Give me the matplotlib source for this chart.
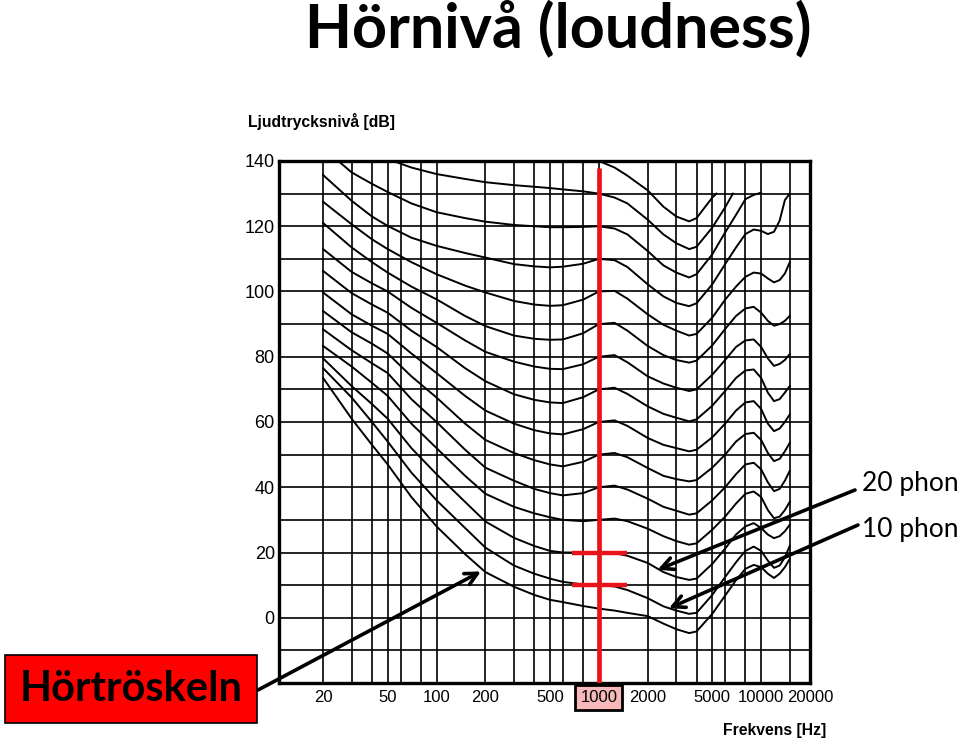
import numpy as np
import matplotlib
matplotlib.use("Agg")
import matplotlib.pyplot as plt
from matplotlib.patches import Rectangle

nan = np.nan

# frekvenser där kurvorna är avlästa (Hz)
freq_hz = [20, 30, 40, 50, 70, 100, 150, 200, 300, 400, 500, 600, 800, 1000, 1250, 1500,
           2000, 2500, 3000, 3600, 4000, 5000, 6000, 7000, 8000, 9000, 10000, 11000,
           12000, 13000, 14000, 15000]

# hörnivåkurvor (dB)
threshold = [73.5, 61, 53, 47, 37, 28, 19.5, 14, 9.5, 7, 5.5, 4.8, 3.6, 2.8, 2.2, 1.5,
             0.5, -1.8, -3.5, -4.7, -4.2, 1.2, 6.8, 11.5, 15, 16.2, 15.5, 13.5, 12.2, 13.5, 15.5, 18]
phon_10 = [76.5, 67.5, 60, 54, 44.5, 36, 27.5, 21.5, 16, 13.5, 12, 11, 10.2, 10, 9.6, 8.5,
           6, 3.5, 2.2, 1.2, 1.5, 7, 12.5, 17, 20.5, 21.8, 20.5, 17.5, 15.3, 16, 18.5, 22]
phon_20 = [79.5, 71, 65.5, 61, 52, 44, 35.5, 29.5, 24.5, 22, 20.5, 20, 20, 20, 19.8, 19,
           16.8, 14, 12.5, 11.6, 12, 16.5, 21.2, 25.5, 28, 29, 27.5, 25.5, 24.4, 25, 26.5, 28.5]
phon_30 = [83.3, 77, 72, 68, 59.5, 52, 43.5, 38, 34, 32, 30.8, 30, 29.6, 30, 30.4, 29.6,
           27.3, 25, 23.5, 22.4, 22.8, 27, 31, 35, 38, 38.7, 37, 33, 30.5, 31, 33, 35.5]
phon_40 = [88.4, 82, 78, 75, 67, 60, 51.5, 46, 42, 39.5, 38.2, 37.5, 38.2, 40, 40.5, 39.3,
           36.5, 34, 32.8, 31.6, 32, 36, 40, 44, 47, 47.5, 45.5, 41.5, 38.8, 39.5, 42, 45]
phon_50 = [94, 87.5, 84, 81, 74, 67.5, 59.5, 54.5, 50.5, 48.3, 47, 46.4, 47.8, 50, 50.5, 49.2,
           45.9, 43.5, 42.5, 41.8, 42.2, 46, 50, 54, 56.3, 56.7, 54.5, 50.5, 48, 48.7, 51, 53.6]
phon_60 = [99.7, 93, 89.5, 87, 81, 75, 68, 63.5, 59.5, 57.5, 56.5, 56.2, 57.8, 60, 60.5, 58.8,
           55.1, 53, 52, 51, 51.5, 55.3, 59.5, 63.5, 66, 66.4, 64, 59.5, 57.2, 58, 60, 62.3]
phon_70 = [106.3, 99.5, 96, 93.5, 88, 83, 76.5, 72.5, 68.5, 66.8, 66, 65.8, 67.6, 70, 70.5, 68.6,
           64.8, 62.5, 61.3, 60.2, 60.8, 65, 69.5, 73.5, 75.8, 76.1, 73.5, 69, 66.4, 67, 69, 71]
phon_80 = [113, 106, 102.5, 100, 95, 90.4, 85, 81.5, 78.5, 77, 76.3, 76.2, 77.7, 80, 80.5, 78.3,
           74, 71.8, 70.5, 69.5, 70, 74.5, 79, 83, 85, 85.3, 83, 79.5, 77.2, 77.8, 79, 80.8]
phon_90 = [121, 113.5, 109, 105.8, 101.5, 97.6, 92.5, 89.4, 86.5, 85.5, 85.2, 85.3, 87.2, 90, 90.4, 88,
           83.3, 80.5, 79, 78.2, 78.8, 83.5, 88.5, 92.5, 94.8, 95.3, 93.5, 91, 89.5, 90, 91, 92.5]
phon_100 = [127.5, 120.6, 116, 113, 109, 105.3, 101.8, 99.7, 97.1, 96, 95.6, 95.8, 97.5, 100, 100.2, 97.8,
            93, 89.8, 88, 86.5, 87, 92, 97.5, 101.5, 104.5, 105.8, 105.5, 104, 102.8, 103.5, 105.5, 108.9]
phon_110 = [135.7, 127.8, 123, 120.1, 116.5, 114, 111.8, 110.4, 108.4, 107.7, 107.4, 107.6, 108.5, 110, 109.6, 107.5,
            102.2, 98.5, 96.5, 95.5, 96.4, 102.2, 108.4, 113.5, 117.6, 119, 118.6, 117.6, 118.3, 121.7, 128, 130]
phon_120 = [144, 136.5, 133, 130.5, 127, 124.3, 122.5, 121.4, 120.4, 120, 119.7, 119.7, 119.8, 120, 119.3, 117.5,
            112.4, 108, 105.8, 104.3, 105.3, 111.4, 118.1, 123.5, 128.3, 129.6, 130.3, nan, nan, nan, nan, nan]
phon_130 = [160, 151, 144.5, 140.6, 138, 136, 134.5, 133.5, 132.6, 132.1, 131.7, 131.3, 130.7, 130, 128.8, 127,
            122, 117.5, 114.8, 113, 113.7, 119.6, 125.8, nan, nan, nan, nan, nan, nan, nan, nan, nan]
phon_140 = [nan, nan, nan, nan, nan, nan, nan, nan, nan, nan, nan, nan, 142, 140, 138, 135.5,
            131, 126, 123, 121.5, 122.5, 128.8, nan, nan, nan, nan, nan, nan, nan, nan, nan, nan]

# de översta kurvorna slutar på 130 dB-linjen
end_hz_130 = 6700
end_hz_140 = 5300
end_db = 130

curves = [threshold, phon_10, phon_20, phon_30, phon_40, phon_50, phon_60, phon_70,
          phon_80, phon_90, phon_100, phon_110, phon_120, phon_130, phon_140]

x_labels_hz = [20, 50, 100, 200, 500, 1000, 2000, 5000, 10000, 20000]
x_labels = ["20", "50", "100", "200", "500", "1000", "2000", "5000", "10000", "20000"]
x_minor_hz = [30, 40, 60, 80, 300, 400, 600, 800, 3000, 4000, 6000, 8000, 15000]
y_labels_db = [0, 20, 40, 60, 80, 100, 120, 140]
y_minor_db = [-20, -10, 10, 30, 50, 70, 90, 110, 130]

ref_hz = 1000        # röd referenslinje
ref_top_db = 138
marker_db = [20, 10]
marker_from_hz, marker_to_hz = 680, 1500

tip_threshold = (188, 14.2)
tip_20 = (2300, 14.7)
tip_10 = (2700, 2.9)

RED = "#e8141c"
AXFONT = "Liberation Sans"

fig = plt.figure(figsize=(9.6, 7.44), dpi=100)
ax = fig.add_axes([279 / 960, 1 - 683 / 744, (810 - 279) / 960, (683 - 161) / 744])
ax.set_xscale("log")
ax.set_xlim(10.7, 20000)
ax.set_ylim(-20, 140)

# rutnät
ax.set_xticks(x_labels_hz, labels=x_labels)
ax.set_xticks(x_minor_hz, minor=True)
ax.set_yticks(y_labels_db, labels=[str(v) for v in y_labels_db])
ax.set_yticks(y_minor_db, minor=True)
ax.grid(which="both", color="black", lw=1.2)
ax.tick_params(which="both", length=0)
ax.tick_params(axis="x", pad=5)
ax.tick_params(axis="y", pad=3)
for lbl in ax.get_xticklabels():
    lbl.set_family(AXFONT)
    lbl.set_fontsize(12)
for lbl in ax.get_yticklabels():
    lbl.set_family(AXFONT)
    lbl.set_fontsize(13)
for sp in ax.spines.values():
    sp.set_linewidth(2.4)

# kurvorna
for vals in curves:
    x = list(freq_hz)
    y = list(vals)
    if vals is phon_130:
        x.insert(23, end_hz_130)
        y.insert(23, end_db)
    if vals is phon_140:
        x.insert(22, end_hz_140)
        y.insert(22, end_db)
    ax.plot(x, y, color="black", lw=1.4)

# röd markering vid 1000 Hz
ax.vlines(ref_hz, -20, ref_top_db, color=RED, lw=3.4, zorder=5)
ax.hlines(marker_db, marker_from_hz, marker_to_hz, color=RED, lw=3.2, zorder=5)

lbl1000 = ax.get_xticklabels()[x_labels_hz.index(1000)]
lbl1000.set_bbox(dict(boxstyle="square,pad=0.3", facecolor="#f6b8b8", edgecolor="black", lw=2))

# text och pilar
fig.text(558 / 960, 716 / 744, "Hörnivå (loudness)", fontsize=44, fontweight="bold",
         family="Lato", ha="center", va="center")
fig.text(248 / 960, 622 / 744, "Ljudtrycksnivå [dB]", fontsize=11.3, fontweight="bold",
         family=AXFONT, ha="left", va="center")
fig.text(826 / 960, 13 / 744, "Frekvens [Hz]", fontsize=11.3, fontweight="bold",
         family=AXFONT, ha="right", va="center")

arrow = dict(arrowstyle="->", lw=2.6, color="black", mutation_scale=22, shrinkA=0, shrinkB=0)
fig.text(862 / 960, 260 / 744, "20 phon", fontsize=19, family="Lato", ha="left", va="center")
fig.text(862 / 960, 214 / 744, "10 phon", fontsize=19, family="Lato", ha="left", va="center")
ax.annotate("", xy=tip_20, xytext=(855, 254), textcoords="figure pixels", arrowprops=arrow)
ax.annotate("", xy=tip_10, xytext=(858, 219), textcoords="figure pixels", arrowprops=arrow)

box = Rectangle((5 / 960, 21 / 744), 252 / 960, 68 / 744, transform=fig.transFigure,
                facecolor="#ff0000", edgecolor="black", lw=1.2)
fig.add_artist(box)
fig.text(131 / 960, 55 / 744, "Hörtröskeln", fontsize=30, fontweight="bold",
         family="Lato", ha="center", va="center")
ax.annotate("", xy=tip_threshold, xytext=(258, 54), textcoords="figure pixels", arrowprops=arrow)

fig.savefig("out.png", dpi=100)
